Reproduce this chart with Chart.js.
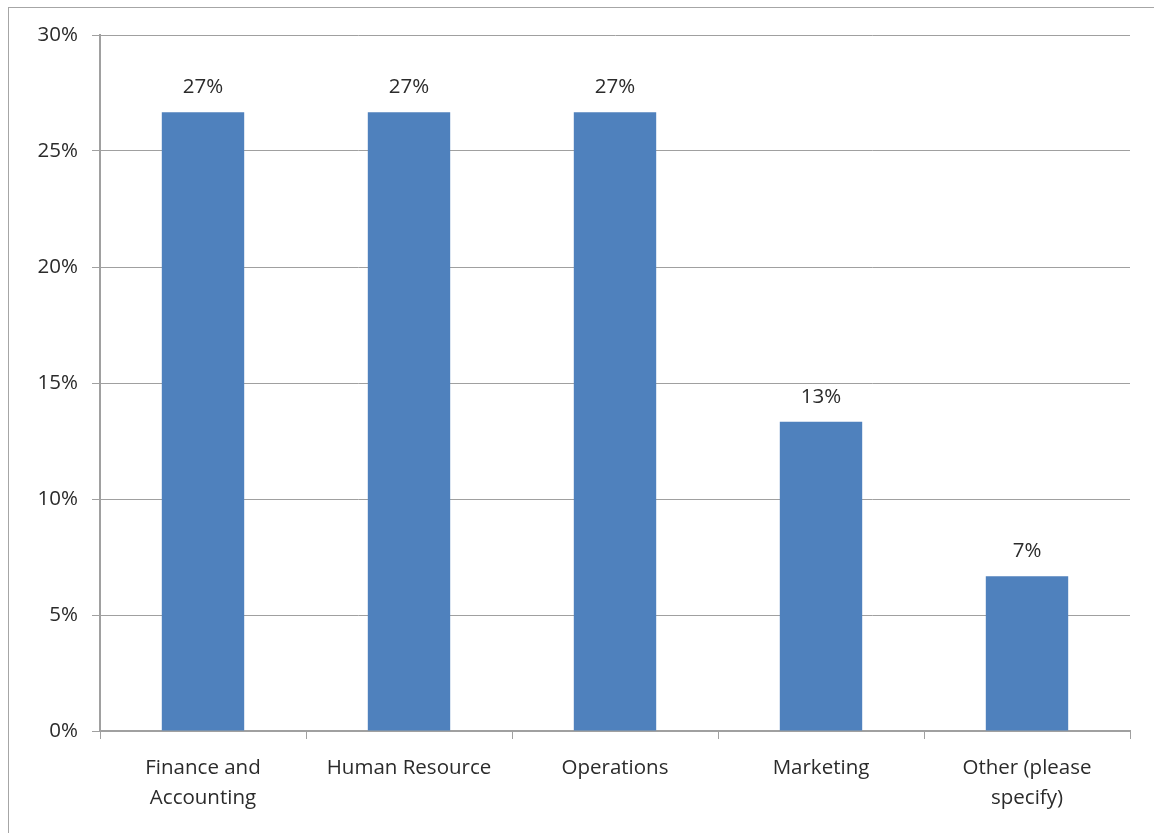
<!DOCTYPE html>
<html>
<head>
<meta charset="utf-8">
<script src="https://cdn.jsdelivr.net/npm/chart.js@4.4.0/dist/chart.umd.min.js"></script>
<style>
  html, body { margin: 0; padding: 0; background: #fff; }
  #wrap { position: relative; width: 1154px; height: 833px; overflow: hidden; }
  #frame { position: absolute; left: 8px; top: 7px; width: 1200px; height: 900px; border: 1px solid #a6a6a6; box-sizing: border-box; }
  canvas { position: absolute; left: 0; top: 0; }
</style>
</head>
<body>
<div id="wrap">
  <div id="frame"></div>
  <canvas id="myChart" width="1154" height="833"></canvas>
</div>
<script>
// categories and shares (percent of respondents)
let categorias = [['Finance and', 'Accounting'], 'Human Resource', 'Operations', 'Marketing', ['Other (please', 'specify)']]
let valores = [26.67, 26.67, 26.67, 13.33, 6.67]
let ticksY = [0, 5, 10, 15, 20, 25, 30]

let corBarra = '#4f81bd'
let corGrade = '#a0a0a0'
let corTexto = '#2b2b2b'
let fonte = "'Open Sans', Lato, sans-serif"
let tamanho = 20.5

// prints the rounded value above each bar
const rotulos = {
    id: 'rotulos',
    afterDatasetsDraw(chart) {
        const c = chart.ctx
        const meta = chart.getDatasetMeta(0)
        c.save()
        c.font = tamanho + 'px ' + fonte
        c.fillStyle = corTexto
        c.textAlign = 'center'
        c.textBaseline = 'middle'
        meta.data.forEach(function (bar, i) {
            c.fillText(Math.round(valores[i]) + '%', bar.x, bar.y - 25)
        })
        c.restore()
    }
}

const ctx = document.getElementById('myChart').getContext('2d')
let myChart = new Chart(ctx, {
    type: 'bar',
    data: {
        labels: categorias,
        datasets: [{
            data: valores,
            backgroundColor: corBarra,
            borderWidth: 0,
            barPercentage: 0.8,
            categoryPercentage: 0.5
        }]
    },
    plugins: [rotulos],
    options: {
        responsive: false,
        animation: false,
        layout: { padding: { top: 35, right: 24, left: 0, bottom: 0 } },
        plugins: {
            legend: { display: false },
            tooltip: { enabled: false }
        },
        scales: {
            x: {
                afterFit: function (scale) { scale.height = 102 },
                grid: { drawOnChartArea: false, drawTicks: true, tickLength: 8, color: corGrade, offset: true },
                border: { color: corGrade, width: 2 },
                ticks: { color: corTexto, font: { family: fonte, size: tamanho, lineHeight: 1.46 }, padding: 14, maxRotation: 0, autoSkip: false }
            },
            y: {
                min: 0,
                max: 30,
                afterFit: function (scale) { scale.width = 100 },
                afterBuildTicks: function (scale) { scale.ticks = ticksY.map(function (v) { return { value: v } }) },
                grid: { color: corGrade, tickLength: 8 },
                border: { color: corGrade, width: 2 },
                ticks: {
                    color: corTexto,
                    font: { family: fonte, size: tamanho },
                    padding: 14,
                    callback: function (v) { return v + '%' }
                }
            }
        }
    }
})
</script>
</body>
</html>
